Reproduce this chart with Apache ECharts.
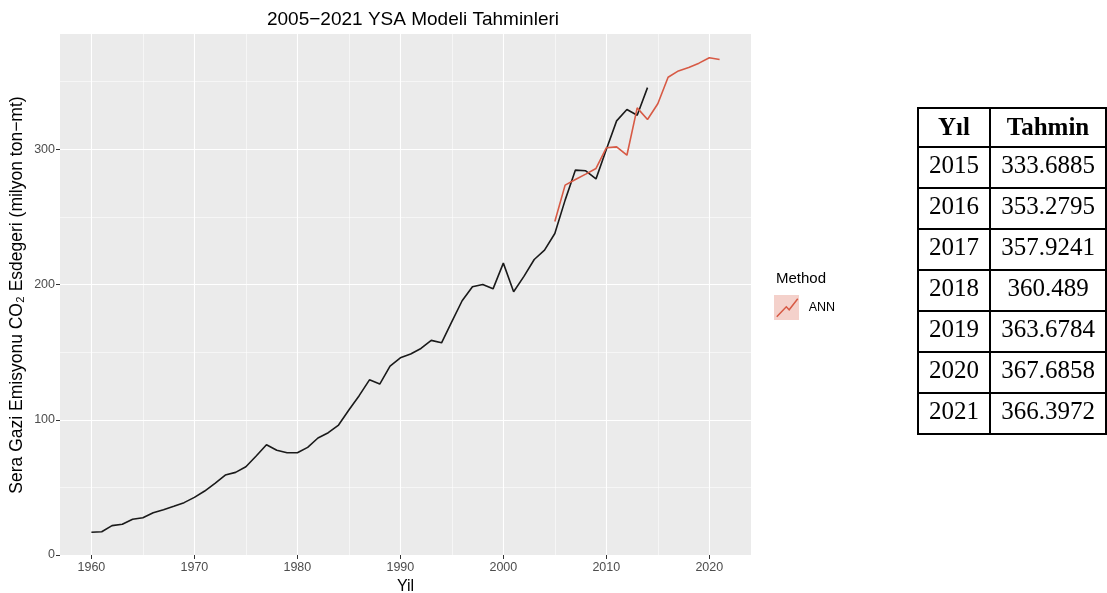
<!DOCTYPE html>
<html>
<head>
<meta charset="utf-8">
<script src="https://cdn.jsdelivr.net/npm/echarts@6/dist/echarts.min.js"></script>
<style>
html,body{margin:0;padding:0;background:#ffffff;}
#chart{width:1107px;height:593px;}
</style>
</head>
<body>
<div id="chart"></div>
<script>
// ---- data ----
const actualYears = [1960,1961,1962,1963,1964,1965,1966,1967,1968,1969,
  1970,1971,1972,1973,1974,1975,1976,1977,1978,1979,
  1980,1981,1982,1983,1984,1985,1986,1987,1988,1989,
  1990,1991,1992,1993,1994,1995,1996,1997,1998,1999,
  2000,2001,2002,2003,2004,2005,2006,2007,2008,2009,
  2010,2011,2012,2013,2014];
const actualValues = [16.8,17.2,21.7,22.7,26.4,27.6,31.3,33.5,36.0,38.7,
  42.6,47.3,53.0,59.1,61.1,65.3,73.2,81.5,77.4,75.6,
  75.6,79.6,86.5,90.4,96.1,107.2,117.8,129.5,126.4,139.7,
  145.8,148.6,152.7,158.7,156.9,172.5,188.0,198.3,200.0,196.8,
  215.8,194.6,206.0,218.5,225.4,237.7,262.4,284.6,284.1,278.1,
  299.8,321.0,329.4,325.2,345.6];
const annFitYears = [2005,2006,2007,2008,2009,2010,2011,2012,2013,2014];
const annFitValues = [246.6,273.5,277.6,281.6,285.8,301.1,301.8,295.6,330.6,322.0];
const forecastYears = [2015,2016,2017,2018,2019,2020,2021];
const forecastValues = [333.6885,353.2795,357.9241,360.489,363.6784,367.6858,366.3972];
const xTickLabels = [1960,1970,1980,1990,2000,2010,2020];
const yTickLabels = [0,100,200,300];
const titleText = '2005\u22122021 YSA Modeli Tahminleri';
const xTitle = 'Yil';
const yTitle = 'Sera Gazi Emisyonu CO\u2082 Esdegeri (milyon ton\u2212mt)';
const legendTitle = 'Method';
const seriesName = 'ANN';
const tableHeader = ['Y\u0131l', 'Tahmin'];

// ---- derived ----
const annYears = annFitYears.concat(forecastYears);
const annValues = annFitValues.concat(forecastValues);
const actualData = actualYears.map((y, i) => [y, actualValues[i]]);
const annData = annYears.map((y, i) => [y, annValues[i]]);

const allX = actualYears.concat(annYears);
const allY = actualValues.concat(annValues);
const xLo = Math.min(...allX), xHi = Math.max(...allX);
const yLo = Math.min(...allY), yHi = Math.max(...allY);
const xPad = (xHi - xLo) * 0.05, yPad = (yHi - yLo) * 0.05;
const xMin = xLo - xPad, xMax = xHi + xPad;
const yMin = yLo - yPad, yMax = yHi + yPad;
const mid = arr => arr.slice(0, -1).map((v, i) => (v + arr[i + 1]) / 2);
const xMinor = mid(xTickLabels);
const yMinor = mid(yTickLabels).concat([yTickLabels[yTickLabels.length - 1] + 50]);

const FONT = '"Liberation Sans", Arial, Helvetica, sans-serif';
const SERIF = '"Liberation Serif", "Times New Roman", serif';
const RED = '#D75A45';

// ---- table graphic ----
const T = {x0: 918, x1: 990, x2: 1106, top: 108, headH: 39, rowH: 41};
const tableEls = [];
function cell(x, y, w, h) {
  tableEls.push({type: 'rect', shape: {x: x, y: y, width: w, height: h},
    style: {fill: 'rgba(0,0,0,0)', stroke: '#000', lineWidth: 2}, z: 10});
}
function txt(s, x, y, bold) {
  tableEls.push({type: 'text', z: 11, style: {text: s, x: x, y: y, align: 'center', verticalAlign: 'middle',
    font: (bold ? 'bold ' : '') + '25px ' + SERIF, fill: '#000'}});
}
cell(T.x0, T.top, T.x1 - T.x0, T.headH);
cell(T.x1, T.top, T.x2 - T.x1, T.headH);
txt(tableHeader[0], (T.x0 + T.x1) / 2, T.top + T.headH / 2 + 1, true);
txt(tableHeader[1], (T.x1 + T.x2) / 2, T.top + T.headH / 2 + 1, true);
forecastYears.forEach((yr, i) => {
  const y = T.top + T.headH + i * T.rowH;
  cell(T.x0, y, T.x1 - T.x0, T.rowH);
  cell(T.x1, y, T.x2 - T.x1, T.rowH);
  txt(String(yr), (T.x0 + T.x1) / 2, y + T.rowH / 2 - 1, false);
  txt(String(forecastValues[i]), (T.x1 + T.x2) / 2, y + T.rowH / 2 - 1, false);
});

const chart = echarts.init(document.getElementById('chart'), null, {renderer: 'canvas'});
const majorSplit = {show: true, lineStyle: {color: '#FFFFFF', width: 1.1}};
const minorSplit = {show: true, lineStyle: {color: '#FFFFFF', width: 0.55}};
const plain = v => String(Math.round(v));

chart.setOption({
  animation: false,
  backgroundColor: '#FFFFFF',
  textStyle: {fontFamily: FONT},
  title: {
    text: titleText, left: 408, top: 5, textAlign: 'center',
    textStyle: {fontFamily: FONT, fontSize: 19, fontWeight: 'normal', color: '#000'}
  },
  grid: {left: 60, right: 356, top: 34, bottom: 37, show: true,
    backgroundColor: '#EBEBEB', borderWidth: 0, containLabel: false, outerBoundsMode: 'none'},
  legend: {
    data: [seriesName], left: 776, top: 298, orient: 'vertical', padding: 0,
    icon: 'path://M0,18 L10,8 L13,11 L22,0', symbolKeepAspect: false,
    itemWidth: 21, itemHeight: 18, itemGap: 4,
    itemStyle: {color: 'rgba(0,0,0,0)', borderColor: RED, borderWidth: 1.5},
    textStyle: {fontFamily: FONT, fontSize: 12.5, color: '#000', padding: [3, 0, 0, 6]}
  },
  graphic: [
    {type: 'text', left: 776, top: 271, z: 5,
      style: {text: legendTitle, font: '15px ' + FONT, fill: '#000'}},
    {type: 'rect', shape: {x: 774, y: 295, width: 25, height: 25}, z: 0,
      style: {fill: 'rgba(215,90,69,0.28)'}},
    {type: 'group', children: tableEls}
  ],
  xAxis: [{
    type: 'value', min: xMin, max: xMax,
    name: xTitle, nameLocation: 'middle', nameGap: 21,
    nameTextStyle: {fontFamily: FONT, fontSize: 16, color: '#000'},
    axisLine: {show: false},
    axisTick: {show: true, length: 4, customValues: xTickLabels, lineStyle: {color: '#333333', width: 1}},
    axisLabel: {customValues: xTickLabels, formatter: plain, margin: 5, fontFamily: FONT, fontSize: 12.5, color: '#4D4D4D'},
    splitLine: majorSplit
  }, {
    type: 'value', min: xMin, max: xMax, position: 'bottom',
    axisLine: {show: false}, axisLabel: {show: false},
    axisTick: {show: false, customValues: xMinor},
    splitLine: minorSplit
  }],
  yAxis: [{
    type: 'value', min: yMin, max: yMax,
    name: yTitle, nameLocation: 'middle', nameGap: 34, nameMoveOverlap: false,
    nameTextStyle: {fontFamily: FONT, fontSize: 17.5, color: '#000'},
    axisLine: {show: false},
    axisTick: {show: true, length: 4, customValues: yTickLabels, lineStyle: {color: '#333333', width: 1}},
    axisLabel: {customValues: yTickLabels, formatter: plain, margin: 5, fontFamily: FONT, fontSize: 12.5, color: '#4D4D4D'},
    splitLine: majorSplit
  }, {
    type: 'value', min: yMin, max: yMax, position: 'left',
    axisLine: {show: false}, axisLabel: {show: false},
    axisTick: {show: false, customValues: yMinor},
    splitLine: minorSplit
  }],
  series: [{
    name: 'Actual', type: 'line', data: actualData, xAxisIndex: 0, yAxisIndex: 0,
    showSymbol: false, symbol: 'none', lineStyle: {color: '#1A1A1A', width: 1.6},
    itemStyle: {color: '#1A1A1A'}, z: 3
  }, {
    name: seriesName, type: 'line', data: annData, xAxisIndex: 0, yAxisIndex: 0,
    showSymbol: false, symbol: 'none', lineStyle: {color: RED, width: 1.6},
    itemStyle: {color: RED}, z: 4
  }]
});
</script>
</body>
</html>
